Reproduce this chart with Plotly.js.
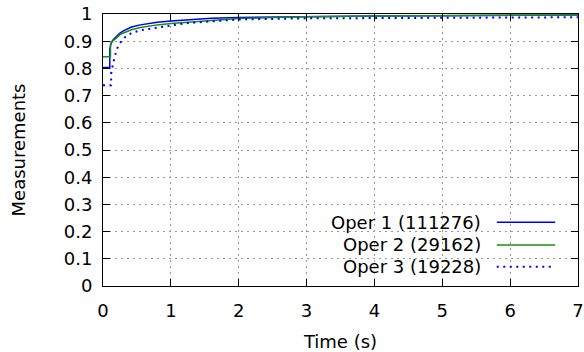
<!DOCTYPE html>
<html>
<head>
<meta charset="utf-8">
<script src="https://cdn.plot.ly/plotly-3.0.1.min.js"></script>
<style>
html,body{margin:0;padding:0;background:#fff;}
#chart{width:584px;height:352px;}
</style>
</head>
<body>
<div id="chart"></div>
<script>
// Series names (legend labels)
const names = ["Oper 1 (111276)", "Oper 2 (29162)", "Oper 3 (19228)"];

// Oper 1 (solid blue)
const x1 = [0, 0.1, 0.1, 0.12, 0.15, 0.2, 0.25, 0.3, 0.42, 0.55, 0.67, 0.8, 1.0, 1.26, 1.6, 2.0, 2.5, 3.0, 4.0, 5.0, 6.0, 7.0];
const y1 = [0.803, 0.803, 0.87, 0.894, 0.905, 0.918, 0.93, 0.938, 0.952, 0.96, 0.966, 0.970, 0.974, 0.979, 0.984, 0.987, 0.989, 0.991, 0.993, 0.994, 0.995, 0.996];

// Oper 2 (solid green)
const x2 = [0, 0.11, 0.11, 0.14, 0.2, 0.25, 0.3, 0.42, 0.55, 0.67, 0.8, 1.0, 1.26, 1.6, 2.0, 2.5, 3.0, 4.0, 5.0, 6.0, 7.0];
const y2 = [0.843, 0.843, 0.885, 0.9, 0.912, 0.924, 0.93, 0.942, 0.95, 0.955, 0.96, 0.965, 0.97, 0.977, 0.983, 0.987, 0.99, 0.993, 0.994, 0.995, 0.996];

// Oper 3 (dotted blue)
const x3 = [0, 0.12, 0.12, 0.15, 0.2, 0.25, 0.32, 0.42, 0.55, 0.67, 0.8, 1.0, 1.26, 1.6, 2.0, 2.5, 3.0, 4.0, 5.0, 6.0, 7.0];
const y3 = [0.738, 0.738, 0.78, 0.82, 0.869, 0.893, 0.914, 0.93, 0.94, 0.945, 0.951, 0.958, 0.967, 0.974, 0.98, 0.982, 0.984, 0.985, 0.986, 0.987, 0.988];

const colors = ["#0000ee", "#159015", "#0000ff"];
const dashes = ["solid", "solid", "2px,4.5px"];
const widths = [1.5, 1.5, 2];

const xs = [x1, x2, x3];
const ys = [y1, y2, y3];

const traces = xs.map((x, i) => ({
  x: x, y: ys[i], name: names[i], type: "scatter", mode: "lines",
  line: {color: colors[i], width: widths[i], dash: dashes[i]},
  showlegend: false, hoverinfo: "none"
}));

// Legend (gnuplot style: text right-aligned, sample on the right)
const legY = [0.234, 0.151, 0.071];
const annotations = names.map((n, i) => ({
  xref: "paper", yref: "paper", x: 0.80, y: legY[i], xanchor: "right", yanchor: "middle",
  text: n, showarrow: false, font: {family: "DejaVu Sans", size: 18, color: "#000"}
}));
const shapes = names.map((n, i) => ({
  type: "line", xref: "paper", yref: "paper", x0: 0.829, x1: 0.952, y0: legY[i], y1: legY[i],
  line: {color: colors[i], width: widths[i], dash: dashes[i]}
}));

const axisCommon = {
  showline: true, linecolor: "#000", linewidth: 1, mirror: "ticks",
  ticks: "inside", ticklen: 7, tickwidth: 1, tickcolor: "#000",
  showgrid: true, gridcolor: "#999", griddash: "2px,4px", gridwidth: 1,
  zeroline: false, tickfont: {family: "DejaVu Sans", size: 18, color: "#000"}
};

const layout = {
  width: 584, height: 352,
  margin: {l: 103, r: 6, t: 14, b: 66},
  paper_bgcolor: "#fff", plot_bgcolor: "#fff",
  font: {family: "DejaVu Sans", size: 18, color: "#000"},
  xaxis: Object.assign({}, axisCommon, {
    range: [0, 7], dtick: 1, tick0: 0, ticklabelstandoff: 8,
    title: {text: "Time (s)", font: {family: "DejaVu Sans", size: 18}, standoff: 16}
  }),
  yaxis: Object.assign({}, axisCommon, {
    range: [0, 1], dtick: 0.1, tick0: 0, ticklabelstandoff: 6,
    title: {text: "Measurements", font: {family: "DejaVu Sans", size: 18}, standoff: 33}
  }),
  annotations: annotations,
  shapes: shapes,
  showlegend: false
};

Plotly.newPlot("chart", traces, layout, {staticPlot: true, displayModeBar: false});
</script>
</body>
</html>
